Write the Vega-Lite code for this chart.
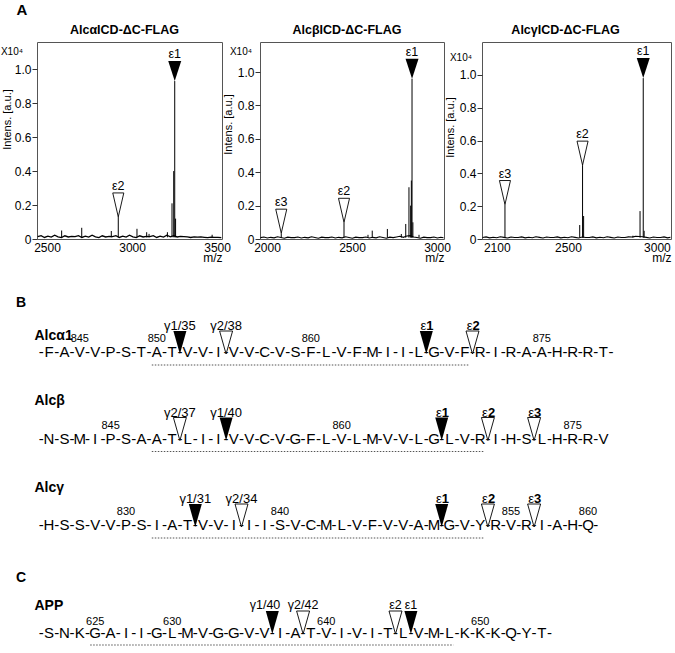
{
  "$schema": "https://vega.github.io/schema/vega-lite/v6.json",
  "padding": {"left": 0, "top": 2, "right": 0, "bottom": 0},
  "background": "white",
  "config": {
    "font": "Liberation Sans",
    "view": {"stroke": "#555", "strokeWidth": 1},
    "axis": {"labelFont": "Liberation Sans", "titleFont": "Liberation Sans", "labelColor": "#000", "titleColor": "#000", "tickColor": "#333", "labelOverlap": false, "labelSeparation": 0},
    "title": {"font": "Liberation Sans", "color": "#000"},
    "text": {"font": "Liberation Sans", "color": "#000"}
  },
  "datasets": {
    "b1": [
      {"mz":2445,"v":0.014},{"mz":2465,"v":0.02},{"mz":2485,"v":0.009},{"mz":2505,"v":0.017},{"mz":2525,"v":0.011},{"mz":2545,"v":0.022},{"mz":2565,"v":0.013},{"mz":2585,"v":0.008},{"mz":2605,"v":0.019},{"mz":2625,"v":0.012},{"mz":2645,"v":0.016},
      {"mz":2665,"v":0.014},{"mz":2685,"v":0.02},{"mz":2705,"v":0.009},{"mz":2725,"v":0.017},{"mz":2745,"v":0.011},{"mz":2765,"v":0.022},{"mz":2785,"v":0.013},{"mz":2805,"v":0.008},{"mz":2825,"v":0.019},{"mz":2845,"v":0.012},{"mz":2865,"v":0.016},
      {"mz":2885,"v":0.014},{"mz":2905,"v":0.02},{"mz":2925,"v":0.009},{"mz":2945,"v":0.017},{"mz":2965,"v":0.011},{"mz":2985,"v":0.022},{"mz":3005,"v":0.013},{"mz":3025,"v":0.008},{"mz":3045,"v":0.019},{"mz":3065,"v":0.012},{"mz":3085,"v":0.016},
      {"mz":3105,"v":0.014},{"mz":3125,"v":0.02},{"mz":3145,"v":0.009},{"mz":3165,"v":0.017},{"mz":3185,"v":0.011},{"mz":3205,"v":0.022},{"mz":3225,"v":0.013},{"mz":3245,"v":0.02},{"mz":3265,"v":0.012},{"mz":3285,"v":0.016},
      {"mz":3305,"v":0.014},{"mz":3325,"v":0.012},{"mz":3345,"v":0.009},{"mz":3365,"v":0.013},{"mz":3385,"v":0.011},{"mz":3405,"v":0.012},{"mz":3425,"v":0.01},{"mz":3445,"v":0.008},{"mz":3465,"v":0.011},{"mz":3485,"v":0.009},{"mz":3505,"v":0.01},{"mz":3525,"v":0.008}
    ],
    "p1": [
      {"mz":2586,"v":0.05},{"mz":2704,"v":0.066},{"mz":2878,"v":0.047},{"mz":2919,"v":0.13,"lab":"ε2","major":false},{"mz":3029,"v":0.06},{"mz":3086,"v":0.04},{"mz":3100,"v":0.03},{"mz":3208,"v":0.04},{"mz":3235,"v":0.21},{"mz":3245,"v":0.4},{"mz":3251,"v":0.93,"lab":"ε1","major":true},{"mz":3256,"v":0.12},{"mz":3471,"v":0.025}
    ],
    "b2": [
      {"mz":1962,"v":0.008},{"mz":1982,"v":0.012},{"mz":2002,"v":0.006},{"mz":2022,"v":0.01},{"mz":2042,"v":0.007},{"mz":2062,"v":0.013},{"mz":2082,"v":0.009},{"mz":2102,"v":0.005},{"mz":2122,"v":0.011},{"mz":2142,"v":0.008},
      {"mz":2162,"v":0.008},{"mz":2182,"v":0.012},{"mz":2202,"v":0.006},{"mz":2222,"v":0.01},{"mz":2242,"v":0.007},{"mz":2262,"v":0.013},{"mz":2282,"v":0.009},{"mz":2302,"v":0.005},{"mz":2322,"v":0.011},{"mz":2342,"v":0.008},
      {"mz":2362,"v":0.008},{"mz":2382,"v":0.012},{"mz":2402,"v":0.006},{"mz":2422,"v":0.01},{"mz":2442,"v":0.007},{"mz":2462,"v":0.013},{"mz":2482,"v":0.009},{"mz":2502,"v":0.005},{"mz":2522,"v":0.011},{"mz":2542,"v":0.008},
      {"mz":2562,"v":0.008},{"mz":2582,"v":0.012},{"mz":2602,"v":0.006},{"mz":2622,"v":0.01},{"mz":2642,"v":0.007},{"mz":2662,"v":0.013},{"mz":2682,"v":0.009},{"mz":2702,"v":0.005},{"mz":2722,"v":0.011},{"mz":2742,"v":0.008},
      {"mz":2762,"v":0.012},{"mz":2782,"v":0.016},{"mz":2802,"v":0.01},{"mz":2822,"v":0.018},{"mz":2842,"v":0.02},{"mz":2862,"v":0.012},{"mz":2882,"v":0.009},{"mz":2902,"v":0.005},{"mz":2922,"v":0.011},{"mz":2942,"v":0.008},
      {"mz":2962,"v":0.008},{"mz":2982,"v":0.012},{"mz":3002,"v":0.006},{"mz":3022,"v":0.01},{"mz":3038,"v":0.007}
    ],
    "p2": [
      {"mz":2084,"v":0.035,"lab":"ε3","major":false},{"mz":2453,"v":0.1,"lab":"ε2","major":false},{"mz":2594,"v":0.025},{"mz":2619,"v":0.05},{"mz":2708,"v":0.06},{"mz":2790,"v":0.03},{"mz":2816,"v":0.09},{"mz":2835,"v":0.31},{"mz":2845,"v":0.2},{"mz":2849,"v":0.35},{"mz":2853,"v":0.96,"lab":"ε1","major":true},{"mz":2858,"v":0.1},{"mz":2894,"v":0.025}
    ],
    "b3": [
      {"mz":2020,"v":0.009},{"mz":2040,"v":0.013},{"mz":2060,"v":0.007},{"mz":2080,"v":0.011},{"mz":2100,"v":0.008},{"mz":2120,"v":0.014},{"mz":2140,"v":0.01},{"mz":2160,"v":0.006},{"mz":2180,"v":0.012},{"mz":2200,"v":0.009},
      {"mz":2220,"v":0.009},{"mz":2240,"v":0.013},{"mz":2260,"v":0.007},{"mz":2280,"v":0.011},{"mz":2300,"v":0.008},{"mz":2320,"v":0.014},{"mz":2340,"v":0.01},{"mz":2360,"v":0.006},{"mz":2380,"v":0.012},{"mz":2400,"v":0.009},
      {"mz":2420,"v":0.009},{"mz":2440,"v":0.013},{"mz":2460,"v":0.007},{"mz":2480,"v":0.011},{"mz":2500,"v":0.008},{"mz":2520,"v":0.014},{"mz":2540,"v":0.01},{"mz":2560,"v":0.006},{"mz":2580,"v":0.012},{"mz":2600,"v":0.009},
      {"mz":2620,"v":0.009},{"mz":2640,"v":0.013},{"mz":2660,"v":0.007},{"mz":2680,"v":0.011},{"mz":2700,"v":0.008},{"mz":2720,"v":0.014},{"mz":2740,"v":0.01},{"mz":2760,"v":0.006},{"mz":2780,"v":0.012},{"mz":2800,"v":0.009},
      {"mz":2820,"v":0.009},{"mz":2840,"v":0.013},{"mz":2860,"v":0.012},{"mz":2880,"v":0.016},{"mz":2900,"v":0.015},{"mz":2920,"v":0.014},{"mz":2940,"v":0.01},{"mz":2960,"v":0.006},{"mz":2980,"v":0.012},{"mz":3000,"v":0.009},
      {"mz":3020,"v":0.009},{"mz":3040,"v":0.013},{"mz":3060,"v":0.007},{"mz":3076,"v":0.011}
    ],
    "p3": [
      {"mz":2146,"v":0.21,"lab":"ε3","major":false},{"mz":2566,"v":0.085},{"mz":2582,"v":0.45,"lab":"ε2","major":false},{"mz":2588,"v":0.14},{"mz":2865,"v":0.02},{"mz":2905,"v":0.17},{"mz":2923,"v":0.98,"lab":"ε1","major":true},{"mz":2928,"v":0.05}
    ],
    "resB": [
      {"r":"Alcα1","i":0,"a":"F"},{"r":"Alcα1","i":1,"a":"A"},{"r":"Alcα1","i":2,"a":"V"},{"r":"Alcα1","i":3,"a":"V"},{"r":"Alcα1","i":4,"a":"P"},{"r":"Alcα1","i":5,"a":"S"},{"r":"Alcα1","i":6,"a":"T"},{"r":"Alcα1","i":7,"a":"A"},{"r":"Alcα1","i":8,"a":"T"},{"r":"Alcα1","i":9,"a":"V"},{"r":"Alcα1","i":10,"a":"V"},{"r":"Alcα1","i":11,"a":"I"},{"r":"Alcα1","i":12,"a":"V"},{"r":"Alcα1","i":13,"a":"V"},{"r":"Alcα1","i":14,"a":"C"},{"r":"Alcα1","i":15,"a":"V"},{"r":"Alcα1","i":16,"a":"S"},{"r":"Alcα1","i":17,"a":"F"},{"r":"Alcα1","i":18,"a":"L"},{"r":"Alcα1","i":19,"a":"V"},{"r":"Alcα1","i":20,"a":"F"},{"r":"Alcα1","i":21,"a":"M"},{"r":"Alcα1","i":22,"a":"I"},{"r":"Alcα1","i":23,"a":"I"},{"r":"Alcα1","i":24,"a":"L"},{"r":"Alcα1","i":25,"a":"G"},{"r":"Alcα1","i":26,"a":"V"},{"r":"Alcα1","i":27,"a":"F"},{"r":"Alcα1","i":28,"a":"R"},{"r":"Alcα1","i":29,"a":"I"},{"r":"Alcα1","i":30,"a":"R"},{"r":"Alcα1","i":31,"a":"A"},{"r":"Alcα1","i":32,"a":"A"},{"r":"Alcα1","i":33,"a":"H"},{"r":"Alcα1","i":34,"a":"R"},{"r":"Alcα1","i":35,"a":"R"},{"r":"Alcα1","i":36,"a":"T"},
      {"r":"Alcβ","i":0,"a":"N"},{"r":"Alcβ","i":1,"a":"S"},{"r":"Alcβ","i":2,"a":"M"},{"r":"Alcβ","i":3,"a":"I"},{"r":"Alcβ","i":4,"a":"P"},{"r":"Alcβ","i":5,"a":"S"},{"r":"Alcβ","i":6,"a":"A"},{"r":"Alcβ","i":7,"a":"A"},{"r":"Alcβ","i":8,"a":"T"},{"r":"Alcβ","i":9,"a":"L"},{"r":"Alcβ","i":10,"a":"I"},{"r":"Alcβ","i":11,"a":"I"},{"r":"Alcβ","i":12,"a":"V"},{"r":"Alcβ","i":13,"a":"V"},{"r":"Alcβ","i":14,"a":"C"},{"r":"Alcβ","i":15,"a":"V"},{"r":"Alcβ","i":16,"a":"G"},{"r":"Alcβ","i":17,"a":"F"},{"r":"Alcβ","i":18,"a":"L"},{"r":"Alcβ","i":19,"a":"V"},{"r":"Alcβ","i":20,"a":"L"},{"r":"Alcβ","i":21,"a":"M"},{"r":"Alcβ","i":22,"a":"V"},{"r":"Alcβ","i":23,"a":"V"},{"r":"Alcβ","i":24,"a":"L"},{"r":"Alcβ","i":25,"a":"G"},{"r":"Alcβ","i":26,"a":"L"},{"r":"Alcβ","i":27,"a":"V"},{"r":"Alcβ","i":28,"a":"R"},{"r":"Alcβ","i":29,"a":"I"},{"r":"Alcβ","i":30,"a":"H"},{"r":"Alcβ","i":31,"a":"S"},{"r":"Alcβ","i":32,"a":"L"},{"r":"Alcβ","i":33,"a":"H"},{"r":"Alcβ","i":34,"a":"R"},{"r":"Alcβ","i":35,"a":"R"},{"r":"Alcβ","i":36,"a":"V"},
      {"r":"Alcγ","i":0,"a":"H"},{"r":"Alcγ","i":1,"a":"S"},{"r":"Alcγ","i":2,"a":"S"},{"r":"Alcγ","i":3,"a":"V"},{"r":"Alcγ","i":4,"a":"V"},{"r":"Alcγ","i":5,"a":"P"},{"r":"Alcγ","i":6,"a":"S"},{"r":"Alcγ","i":7,"a":"I"},{"r":"Alcγ","i":8,"a":"A"},{"r":"Alcγ","i":9,"a":"T"},{"r":"Alcγ","i":10,"a":"V"},{"r":"Alcγ","i":11,"a":"V"},{"r":"Alcγ","i":12,"a":"I"},{"r":"Alcγ","i":13,"a":"I"},{"r":"Alcγ","i":14,"a":"I"},{"r":"Alcγ","i":15,"a":"S"},{"r":"Alcγ","i":16,"a":"V"},{"r":"Alcγ","i":17,"a":"C"},{"r":"Alcγ","i":18,"a":"M"},{"r":"Alcγ","i":19,"a":"L"},{"r":"Alcγ","i":20,"a":"V"},{"r":"Alcγ","i":21,"a":"F"},{"r":"Alcγ","i":22,"a":"V"},{"r":"Alcγ","i":23,"a":"V"},{"r":"Alcγ","i":24,"a":"A"},{"r":"Alcγ","i":25,"a":"M"},{"r":"Alcγ","i":26,"a":"G"},{"r":"Alcγ","i":27,"a":"V"},{"r":"Alcγ","i":28,"a":"Y"},{"r":"Alcγ","i":29,"a":"R"},{"r":"Alcγ","i":30,"a":"V"},{"r":"Alcγ","i":31,"a":"R"},{"r":"Alcγ","i":32,"a":"I"},{"r":"Alcγ","i":33,"a":"A"},{"r":"Alcγ","i":34,"a":"H"},{"r":"Alcγ","i":35,"a":"Q"}
    ],
    "tailB": [{"r":"Alcα1","i":36},{"r":"Alcγ","i":35}],
    "numB": [
      {"r":"Alcα1","i":2,"n":"845"},{"r":"Alcα1","i":7,"n":"850"},{"r":"Alcα1","i":17,"n":"860"},{"r":"Alcα1","i":32,"n":"875"},
      {"r":"Alcβ","i":4,"n":"845"},{"r":"Alcβ","i":19,"n":"860"},{"r":"Alcβ","i":34,"n":"875"},
      {"r":"Alcγ","i":5,"n":"830"},{"r":"Alcγ","i":15,"n":"840"},{"r":"Alcγ","i":30,"n":"855"},{"r":"Alcγ","i":35,"n":"860"}
    ],
    "tmB": [{"r":"Alcα1","s":7,"e":27},{"r":"Alcβ","s":7,"e":28},{"r":"Alcγ","s":7,"e":28}],
    "cutB": [
      {"r":"Alcα1","pos":8.5,"lab":"γ1/35","major":true},{"r":"Alcα1","pos":11.5,"lab":"γ2/38","major":false},{"r":"Alcα1","pos":24.5,"lab":"ε1","n":"1","major":true},{"r":"Alcα1","pos":27.5,"lab":"ε2","n":"2","major":false},
      {"r":"Alcβ","pos":8.5,"lab":"γ2/37","major":false},{"r":"Alcβ","pos":11.5,"lab":"γ1/40","major":true},{"r":"Alcβ","pos":25.5,"lab":"ε1","n":"1","major":true},{"r":"Alcβ","pos":28.5,"lab":"ε2","n":"2","major":false},{"r":"Alcβ","pos":31.5,"lab":"ε3","n":"3","major":false},
      {"r":"Alcγ","pos":9.5,"lab":"γ1/31","major":true},{"r":"Alcγ","pos":12.5,"lab":"γ2/34","major":false},{"r":"Alcγ","pos":25.5,"lab":"ε1","n":"1","major":true},{"r":"Alcγ","pos":28.5,"lab":"ε2","n":"2","major":false},{"r":"Alcγ","pos":31.5,"lab":"ε3","n":"3","major":false}
    ],
    "resC": [
      {"r":"APP","i":0,"a":"S"},{"r":"APP","i":1,"a":"N"},{"r":"APP","i":2,"a":"K"},{"r":"APP","i":3,"a":"G"},{"r":"APP","i":4,"a":"A"},{"r":"APP","i":5,"a":"I"},{"r":"APP","i":6,"a":"I"},{"r":"APP","i":7,"a":"G"},{"r":"APP","i":8,"a":"L"},{"r":"APP","i":9,"a":"M"},{"r":"APP","i":10,"a":"V"},{"r":"APP","i":11,"a":"G"},{"r":"APP","i":12,"a":"G"},{"r":"APP","i":13,"a":"V"},{"r":"APP","i":14,"a":"V"},{"r":"APP","i":15,"a":"I"},{"r":"APP","i":16,"a":"A"},{"r":"APP","i":17,"a":"T"},{"r":"APP","i":18,"a":"V"},{"r":"APP","i":19,"a":"I"},{"r":"APP","i":20,"a":"V"},{"r":"APP","i":21,"a":"I"},{"r":"APP","i":22,"a":"T"},{"r":"APP","i":23,"a":"L"},{"r":"APP","i":24,"a":"V"},{"r":"APP","i":25,"a":"M"},{"r":"APP","i":26,"a":"L"},{"r":"APP","i":27,"a":"K"},{"r":"APP","i":28,"a":"K"},{"r":"APP","i":29,"a":"K"},{"r":"APP","i":30,"a":"Q"},{"r":"APP","i":31,"a":"Y"},{"r":"APP","i":32,"a":"T"}
    ],
    "tailC": [{"r":"APP","i":32}],
    "numC": [{"r":"APP","i":3,"n":"625"},{"r":"APP","i":8,"n":"630"},{"r":"APP","i":18,"n":"640"},{"r":"APP","i":28,"n":"650"}],
    "tmC": [{"r":"APP","s":3,"e":26}],
    "cutC": [
      {"r":"APP","pos":14.5,"lab":"γ1/40","major":true},{"r":"APP","pos":16.5,"lab":"γ2/42","major":false},{"r":"APP","pos":22.5,"lab":"ε2","major":false},{"r":"APP","pos":23.5,"lab":"ε1","major":true}
    ]
  },
  "bounds": "flush",
  "spacing": 310,
  "vconcat": [
    {
      "bounds": "flush",
      "spacing": 38,
      "hconcat": [
        {
          "width": 185, "height": 197,
          "encoding": {
            "x": {"field": "mz", "type": "quantitative", "scale": {"domain": [2441, 3529], "nice": false, "zero": false},
                  "axis": {"title": "m/z", "values": [2500, 3000, 3500], "format": "d", "labelOverlap": false, "ticks": false, "domain": false, "grid": false, "labelFontSize": 12, "labelPadding": 3, "labelFlush": false, "titleAnchor": "end", "titleAlign": "right", "titlePadding": -1, "titleFontSize": 12, "titleFontWeight": "normal"}},
            "y": {"field": "v", "type": "quantitative", "scale": {"domain": [0, 1.16], "nice": false, "zero": false},
                  "axis": {"title": "Intens. [a.u.]", "values": [0, 0.2, 0.4, 0.6, 0.8, 1], "format": ".1f", "labelExpr": "datum.value == 0 ? '0' : datum.label", "labelOverlap": false, "tickSize": 5, "domain": false, "grid": false, "labelFontSize": 12, "labelPadding": 1, "labelFlush": false, "titleFontSize": 11, "titleFontWeight": "normal", "titleX": -30, "titleY": 77, "titleBaseline": "middle", "titleAlign": "center"}}
          },
          "layer": [
            {"data": {"name": "b1"}, "mark": {"type": "line", "color": "#000", "strokeWidth": 1.3, "clip": true}},
            {"data": {"name": "p1"}, "mark": {"type": "rule", "color": "#000", "strokeWidth": 1}, "encoding": {"y2": {"datum": 0.01}}},
            {"data": {"name": "p1"}, "transform": [{"filter": "datum.major === false"}], "mark": {"type": "point", "shape": "M-0.46,-1L0.46,-1L0,1Z", "size": 576, "filled": true, "fill": "#fff", "stroke": "#000", "strokeWidth": 0.9, "opacity": 1, "yOffset": -12}},
            {"data": {"name": "p1"}, "transform": [{"filter": "datum.major === true"}], "mark": {"type": "point", "shape": "M-0.65,-1L0.65,-1L0,1Z", "size": 400, "filled": true, "color": "#000", "opacity": 1, "yOffset": -10}},
            {"data": {"name": "p1"}, "transform": [{"filter": "datum.major === false"}], "mark": {"type": "text", "dy": -27, "baseline": "alphabetic", "fontSize": 12.5}, "encoding": {"text": {"field": "lab"}}},
            {"data": {"name": "p1"}, "transform": [{"filter": "datum.major === true"}], "mark": {"type": "text", "dy": -23, "baseline": "alphabetic", "fontSize": 12.5}, "encoding": {"text": {"field": "lab"}}},
            {"data": {"values": [{"mz": 2441, "v": 1.1}]}, "mark": {"type": "text", "text": "X10⁴", "align": "right", "baseline": "middle", "fontSize": 10, "dx": -14}},
            {"data": {"values": [{"mz": 2985, "v": 1.16}]}, "mark": {"type": "text", "text": "AlcαICD-ΔC-FLAG", "align": "center", "baseline": "middle", "fontSize": 12.5, "fontWeight": "bold", "dx": -5, "dy": -12}},
            {"data": {"values": [{"mz": 2441, "v": 1.16}]}, "mark": {"type": "text", "text": "A", "align": "center", "baseline": "middle", "fontSize": 15, "fontWeight": "bold", "dx": -15, "dy": -32}}
          ]
        },
        {
          "width": 184, "height": 197,
          "encoding": {
            "x": {"field": "mz", "type": "quantitative", "scale": {"domain": [1959, 3041], "nice": false, "zero": false},
                  "axis": {"title": "m/z", "values": [2000, 2500, 3000], "format": "d", "labelOverlap": false, "ticks": false, "domain": false, "grid": false, "labelFontSize": 12, "labelPadding": 3, "labelFlush": false, "titleAnchor": "end", "titleAlign": "right", "titlePadding": -1, "titleFontSize": 12, "titleFontWeight": "normal"}},
            "y": {"field": "v", "type": "quantitative", "scale": {"domain": [0, 1.18], "nice": false, "zero": false},
                  "axis": {"title": "Intens. [a.u.]", "values": [0, 0.2, 0.4, 0.6, 0.8, 1], "format": ".1f", "labelExpr": "datum.value == 0 ? '0' : datum.label", "labelOverlap": false, "tickSize": 5, "domain": false, "grid": false, "labelFontSize": 12, "labelPadding": 1, "labelFlush": false, "titleFontSize": 11, "titleFontWeight": "normal", "titleX": -32, "titleY": 82, "titleBaseline": "middle", "titleAlign": "center"}}
          },
          "layer": [
            {"data": {"name": "b2"}, "mark": {"type": "line", "color": "#000", "strokeWidth": 1.1, "clip": true}},
            {"data": {"name": "p2"}, "mark": {"type": "rule", "color": "#000", "strokeWidth": 1}, "encoding": {"y2": {"datum": 0.008}}},
            {"data": {"name": "p2"}, "transform": [{"filter": "datum.major === false"}], "mark": {"type": "point", "shape": "M-0.46,-1L0.46,-1L0,1Z", "size": 576, "filled": true, "fill": "#fff", "stroke": "#000", "strokeWidth": 0.9, "opacity": 1, "yOffset": -12}},
            {"data": {"name": "p2"}, "transform": [{"filter": "datum.major === true"}], "mark": {"type": "point", "shape": "M-0.65,-1L0.65,-1L0,1Z", "size": 400, "filled": true, "color": "#000", "opacity": 1, "yOffset": -10}},
            {"data": {"name": "p2"}, "transform": [{"filter": "datum.major === false"}], "mark": {"type": "text", "dy": -27, "baseline": "alphabetic", "fontSize": 12.5}, "encoding": {"text": {"field": "lab"}}},
            {"data": {"name": "p2"}, "transform": [{"filter": "datum.major === true"}], "mark": {"type": "text", "dy": -23, "baseline": "alphabetic", "fontSize": 12.5}, "encoding": {"text": {"field": "lab"}}},
            {"data": {"values": [{"mz": 1959, "v": 1.12}]}, "mark": {"type": "text", "text": "X10⁴", "align": "right", "baseline": "middle", "fontSize": 10, "dx": -8}},
            {"data": {"values": [{"mz": 2500, "v": 1.18}]}, "mark": {"type": "text", "text": "AlcβICD-ΔC-FLAG", "align": "center", "baseline": "middle", "fontSize": 12.5, "fontWeight": "bold", "dx": -5, "dy": -12}}
          ]
        },
        {
          "width": 189, "height": 197,
          "encoding": {
            "x": {"field": "mz", "type": "quantitative", "scale": {"domain": [2017, 3079], "nice": false, "zero": false},
                  "axis": {"title": "m/z", "values": [2100, 2500, 3000], "format": "d", "labelOverlap": false, "ticks": false, "domain": false, "grid": false, "labelFontSize": 12, "labelPadding": 3, "labelFlush": false, "titleAnchor": "end", "titleAlign": "right", "titlePadding": -1, "titleFontSize": 12, "titleFontWeight": "normal"}},
            "y": {"field": "v", "type": "quantitative", "scale": {"domain": [0, 1.2], "nice": false, "zero": false},
                  "axis": {"title": "Intens. [a.u.]", "values": [0, 0.2, 0.4, 0.6, 0.8, 1], "format": ".1f", "labelExpr": "datum.value == 0 ? '0' : datum.label", "labelOverlap": false, "tickSize": 5, "domain": false, "grid": false, "labelFontSize": 12, "labelPadding": 1, "labelFlush": false, "titleFontSize": 11, "titleFontWeight": "normal", "titleX": -32, "titleY": 85, "titleBaseline": "middle", "titleAlign": "center"}}
          },
          "layer": [
            {"data": {"name": "b3"}, "mark": {"type": "line", "color": "#000", "strokeWidth": 1.1, "clip": true}},
            {"data": {"name": "p3"}, "mark": {"type": "rule", "color": "#000", "strokeWidth": 1}, "encoding": {"y2": {"datum": 0.008}}},
            {"data": {"name": "p3"}, "transform": [{"filter": "datum.major === false"}], "mark": {"type": "point", "shape": "M-0.46,-1L0.46,-1L0,1Z", "size": 576, "filled": true, "fill": "#fff", "stroke": "#000", "strokeWidth": 0.9, "opacity": 1, "yOffset": -12}},
            {"data": {"name": "p3"}, "transform": [{"filter": "datum.major === true"}], "mark": {"type": "point", "shape": "M-0.65,-1L0.65,-1L0,1Z", "size": 400, "filled": true, "color": "#000", "opacity": 1, "yOffset": -10}},
            {"data": {"name": "p3"}, "transform": [{"filter": "datum.major === false"}], "mark": {"type": "text", "dy": -27, "baseline": "alphabetic", "fontSize": 12.5}, "encoding": {"text": {"field": "lab"}}},
            {"data": {"name": "p3"}, "transform": [{"filter": "datum.major === true"}], "mark": {"type": "text", "dy": -23, "baseline": "alphabetic", "fontSize": 12.5}, "encoding": {"text": {"field": "lab"}}},
            {"data": {"values": [{"mz": 2017, "v": 1.1}]}, "mark": {"type": "text", "text": "X10⁴", "align": "right", "baseline": "middle", "fontSize": 10, "dx": -10}},
            {"data": {"values": [{"mz": 2548, "v": 1.2}]}, "mark": {"type": "text", "text": "AlcγICD-ΔC-FLAG", "align": "center", "baseline": "middle", "fontSize": 12.5, "fontWeight": "bold", "dx": -11, "dy": -12}}
          ]
        }
      ]
    },
    {
      "bounds": "flush",
      "spacing": 98,
      "vconcat": [
        {
          "width": 637, "height": 173,
          "view": {"stroke": null},
          "layer": [
            {"data": {"name": "resB"}, "mark": {"type": "text", "fontSize": 15, "baseline": "middle"},
             "encoding": {
               "x": {"field": "i", "type": "quantitative", "scale": {"domain": [-0.779, 40.584], "nice": false, "zero": false}, "axis": null},
               "y": {"field": "r", "type": "nominal", "title": null, "scale": {"type": "point", "domain": ["Alcα1", "Alcβ", "Alcγ"], "padding": 0},
                     "axis": {"title": null, "domain": false, "ticks": false, "tickSize": 0, "grid": false, "labelAlign": "left", "labelBaseline": "middle", "labelPadding": 3, "labelFontSize": 14, "labelFontWeight": "bold", "labelOffset": {"condition": {"test": "datum.value === 'Alcα1'", "value": -17}, "value": -38}}},
               "text": {"field": "a"}}},
            {"data": {"name": "resB"}, "mark": {"type": "text", "text": "-", "fontSize": 15, "baseline": "middle", "dx": -7.7},
             "encoding": {"x": {"field": "i", "type": "quantitative", "axis": null}, "y": {"field": "r", "type": "nominal", "title": null}}},
            {"data": {"name": "tailB"}, "mark": {"type": "text", "text": "-", "fontSize": 15, "baseline": "middle", "dx": 7.7},
             "encoding": {"x": {"field": "i", "type": "quantitative", "axis": null}, "y": {"field": "r", "type": "nominal", "title": null}}},
            {"data": {"name": "numB"}, "mark": {"type": "text", "fontSize": 11, "baseline": "middle", "dy": -13},
             "encoding": {"x": {"field": "i", "type": "quantitative", "axis": null}, "y": {"field": "r", "type": "nominal", "title": null}, "text": {"field": "n"}}},
            {"data": {"name": "tmB"}, "mark": {"type": "rule", "color": "#555", "strokeWidth": 1.2, "strokeDash": [1.5, 1.5], "yOffset": 13, "xOffset": -5, "x2Offset": 4},
             "encoding": {"x": {"field": "s", "type": "quantitative", "axis": null}, "x2": {"field": "e"}, "y": {"field": "r", "type": "nominal", "title": null}}},
            {"data": {"name": "cutB"}, "transform": [{"filter": "datum.major === false"}], "mark": {"type": "point", "shape": "M-0.565,-1L0.565,-1L0,1Z", "size": 529, "filled": true, "fill": "#fff", "stroke": "#000", "strokeWidth": 0.9, "opacity": 1, "yOffset": -9.5},
             "encoding": {"x": {"field": "pos", "type": "quantitative", "axis": null}, "y": {"field": "r", "type": "nominal", "title": null}}},
            {"data": {"name": "cutB"}, "transform": [{"filter": "datum.major === true"}], "mark": {"type": "point", "shape": "M-0.565,-1L0.565,-1L0,1Z", "size": 529, "filled": true, "color": "#000", "opacity": 1, "yOffset": -9.5},
             "encoding": {"x": {"field": "pos", "type": "quantitative", "axis": null}, "y": {"field": "r", "type": "nominal", "title": null}}},
            {"data": {"name": "cutB"}, "transform": [{"filter": "!datum.n"}], "mark": {"type": "text", "fontSize": 13, "baseline": "alphabetic", "dy": -22},
             "encoding": {"x": {"field": "pos", "type": "quantitative", "axis": null}, "y": {"field": "r", "type": "nominal", "title": null}, "text": {"field": "lab"}}},
            {"data": {"name": "cutB"}, "transform": [{"filter": "datum.n"}], "mark": {"type": "text", "text": "ε", "fontSize": 13, "baseline": "alphabetic", "align": "right", "dy": -22},
             "encoding": {"x": {"field": "pos", "type": "quantitative", "axis": null}, "y": {"field": "r", "type": "nominal", "title": null}}},
            {"data": {"name": "cutB"}, "transform": [{"filter": "datum.n"}], "mark": {"type": "text", "fontSize": 13, "fontWeight": "bold", "baseline": "alphabetic", "align": "left", "dy": -22},
             "encoding": {"x": {"field": "pos", "type": "quantitative", "axis": null}, "y": {"field": "r", "type": "nominal", "title": null}, "text": {"field": "n"}}},
            {"data": {"values": [{}]}, "mark": {"type": "text", "text": "B", "fontSize": 14, "fontWeight": "bold", "align": "left", "baseline": "middle", "dx": -21, "dy": -49},
             "encoding": {"x": {"datum": -0.779}, "y": {"datum": "Alcα1"}}}
          ]
        },
        {
          "width": 637, "height": 20,
          "view": {"stroke": null},
          "layer": [
            {"data": {"name": "resC"}, "mark": {"type": "text", "fontSize": 15, "baseline": "middle"},
             "encoding": {
               "x": {"field": "i", "type": "quantitative", "scale": {"domain": [-0.779, 40.584], "nice": false, "zero": false}, "axis": null},
               "y": {"field": "r", "type": "nominal", "title": null, "scale": {"type": "point", "domain": ["APP"], "padding": 0},
                     "axis": {"title": null, "domain": false, "ticks": false, "tickSize": 0, "grid": false, "labelAlign": "left", "labelBaseline": "middle", "labelPadding": 3, "labelFontSize": 14, "labelFontWeight": "bold", "labelOffset": -28}},
               "text": {"field": "a"}}},
            {"data": {"name": "resC"}, "mark": {"type": "text", "text": "-", "fontSize": 15, "baseline": "middle", "dx": -7.7},
             "encoding": {"x": {"field": "i", "type": "quantitative", "axis": null}, "y": {"field": "r", "type": "nominal", "title": null}}},
            {"data": {"name": "tailC"}, "mark": {"type": "text", "text": "-", "fontSize": 15, "baseline": "middle", "dx": 7.7},
             "encoding": {"x": {"field": "i", "type": "quantitative", "axis": null}, "y": {"field": "r", "type": "nominal", "title": null}}},
            {"data": {"name": "numC"}, "mark": {"type": "text", "fontSize": 11, "baseline": "middle", "dy": -11},
             "encoding": {"x": {"field": "i", "type": "quantitative", "axis": null}, "y": {"field": "r", "type": "nominal", "title": null}, "text": {"field": "n"}}},
            {"data": {"name": "tmC"}, "mark": {"type": "rule", "color": "#555", "strokeWidth": 1.2, "strokeDash": [1.5, 1.5], "yOffset": 12, "xOffset": -5, "x2Offset": 4},
             "encoding": {"x": {"field": "s", "type": "quantitative", "axis": null}, "x2": {"field": "e"}, "y": {"field": "r", "type": "nominal", "title": null}}},
            {"data": {"name": "cutC"}, "transform": [{"filter": "datum.major === false"}], "mark": {"type": "point", "shape": "M-0.565,-1L0.565,-1L0,1Z", "size": 529, "filled": true, "fill": "#fff", "stroke": "#000", "strokeWidth": 0.9, "opacity": 1, "yOffset": -10.5},
             "encoding": {"x": {"field": "pos", "type": "quantitative", "axis": null}, "y": {"field": "r", "type": "nominal", "title": null}}},
            {"data": {"name": "cutC"}, "transform": [{"filter": "datum.major === true"}], "mark": {"type": "point", "shape": "M-0.565,-1L0.565,-1L0,1Z", "size": 529, "filled": true, "color": "#000", "opacity": 1, "yOffset": -10.5},
             "encoding": {"x": {"field": "pos", "type": "quantitative", "axis": null}, "y": {"field": "r", "type": "nominal", "title": null}}},
            {"data": {"name": "cutC"}, "transform": [{"filter": "datum.lab !== 'γ1/40'"}], "mark": {"type": "text", "fontSize": 12.5, "baseline": "alphabetic", "dy": -24},
             "encoding": {"x": {"field": "pos", "type": "quantitative", "axis": null}, "y": {"field": "r", "type": "nominal", "title": null}, "text": {"field": "lab"}}},
            {"data": {"name": "cutC"}, "transform": [{"filter": "datum.lab === 'γ1/40'"}], "mark": {"type": "text", "fontSize": 12.5, "baseline": "alphabetic", "align": "right", "dx": 8, "dy": -24},
             "encoding": {"x": {"field": "pos", "type": "quantitative", "axis": null}, "y": {"field": "r", "type": "nominal", "title": null}, "text": {"field": "lab"}}},
            {"data": {"values": [{}]}, "mark": {"type": "text", "text": "C", "fontSize": 14, "fontWeight": "bold", "align": "left", "baseline": "middle", "dx": -21, "dy": -55},
             "encoding": {"x": {"datum": -0.779}, "y": {"datum": "APP"}}}
          ]
        }
      ]
    }
  ]
}
